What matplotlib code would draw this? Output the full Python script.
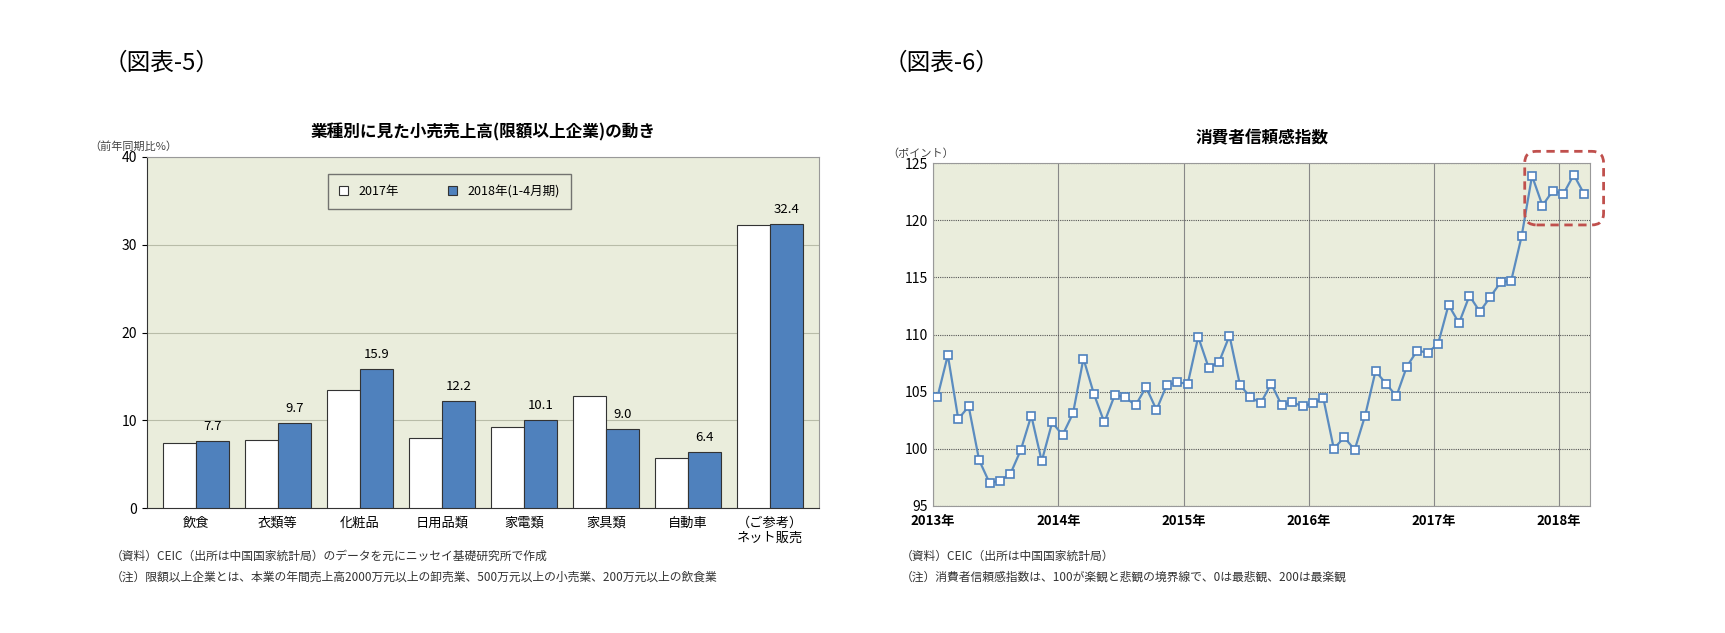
import numpy as np
import matplotlib
matplotlib.use("Agg")
import matplotlib.pyplot as plt
from matplotlib.patches import FancyBboxPatch

plt.rcParams["font.family"] = "Noto Sans CJK JP"

# ---- 図表-5 data ----
categories = ["飲食", "衣類等", "化粧品", "日用品類", "家電類", "家具類", "自動車", "（ご参考）\nネット販売"]
growth_2017 = [7.4, 7.8, 13.5, 8.0, 9.3, 12.8, 5.7, 32.2]
growth_2018 = [7.7, 9.7, 15.9, 12.2, 10.1, 9.0, 6.4, 32.4]

# ---- 図表-6 data (monthly, Jan 2013 - Mar 2018) ----
confidence = [
    104.5, 108.2, 102.6, 103.7, 99.0, 97.0, 97.2, 97.8, 99.9, 102.9, 98.9, 102.3,
    101.2, 103.1, 107.9, 104.8, 102.3, 104.7, 104.5, 103.8, 105.4, 103.4, 105.6, 105.8,
    105.7, 109.8, 107.1, 107.6, 109.9, 105.6, 104.5, 104.0, 105.7, 103.8, 104.1, 103.7,
    104.0, 104.4, 100.0, 101.0, 99.9, 102.9, 106.8, 105.7, 104.6, 107.2, 108.6, 108.4,
    109.2, 112.6, 111.0, 113.4, 112.0, 113.3, 114.6, 114.7, 118.6, 123.9, 121.3, 122.6,
    122.3, 124.0, 122.3,
]
year_labels = ["2013年", "2014年", "2015年", "2016年", "2017年", "2018年"]

bg = "#eaeddc"
blue = "#4f81bd"

fig = plt.figure(figsize=(17.25, 6.33), dpi=100)
fig.text(0.06, 0.90, "（図表-5）", fontsize=17, va="center")
fig.text(0.512, 0.90, "（図表-6）", fontsize=17, va="center")

# ---------- left chart ----------
ax1 = fig.add_axes([0.085, 0.197, 0.39, 0.555])
ax1.set_facecolor(bg)
x = np.arange(len(categories))
w = 0.4
ax1.bar(x - w / 2, growth_2017, w, color="white", edgecolor="#333333", lw=0.8, label="2017年", zorder=3)
ax1.bar(x + w / 2, growth_2018, w, color=blue, edgecolor="#333333", lw=0.8, label="2018年(1-4月期)", zorder=3)
for xi, v in zip(x, growth_2018):
    ax1.text(xi + w / 2, v + 0.9, f"{v:.1f}", ha="center", va="bottom", fontsize=9.5)
ax1.set_xlim(-0.6, len(categories) - 0.4)
ax1.set_ylim(0, 40)
ax1.set_yticks([0, 10, 20, 30, 40])
ax1.yaxis.grid(True, color="#b8bca8", lw=0.8, zorder=0)
ax1.set_xticks(x)
ax1.set_xticklabels(categories, fontsize=9.5)
ax1.tick_params(axis="x", length=0, pad=6)
ax1.tick_params(axis="y", labelsize=10)
for s in ax1.spines.values():
    s.set_color("#999999")
ax1.spines["left"].set_color("#333333")
ax1.spines["bottom"].set_color("#333333")
ax1.set_title("業種別に見た小売売上高(限額以上企業)の動き", fontsize=12, fontweight="bold", pad=14)
ax1.text(-0.085, 1.02, "（前年同期比%）", transform=ax1.transAxes, fontsize=8, color="#444444")
ax1.legend(loc="upper center", bbox_to_anchor=(0.45, 0.97), ncol=2, fontsize=9,
           frameon=True, fancybox=False, edgecolor="#555555", facecolor=bg,
           handlelength=0.7, handleheight=0.7, columnspacing=4, borderpad=0.9)
fig.text(0.064, 0.115, "（資料）CEIC（出所は中国国家統計局）のデータを元にニッセイ基礎研究所で作成", fontsize=8.5, color="#333333")
fig.text(0.064, 0.083, "（注）限額以上企業とは、本業の年間売上高2000万元以上の卸売業、500万元以上の小売業、200万元以上の飲食業", fontsize=8.5, color="#333333")

# ---------- right chart ----------
ax2 = fig.add_axes([0.541, 0.201, 0.381, 0.541])
ax2.set_facecolor(bg)
months = np.arange(len(confidence)) + 0.4
ax2.plot(months, confidence, color="#5b8cc0", lw=1.6, marker="s", markersize=5.5,
         markerfacecolor="white", markeredgecolor="#4f81bd", markeredgewidth=1.2, zorder=3)
ax2.set_xlim(0, len(confidence))
ax2.set_ylim(95, 125)
ax2.set_yticks(range(95, 126, 5))
ax2.yaxis.grid(True, color="#555555", lw=0.8, ls=(0, (1, 1)), zorder=0)
year_pos = np.arange(len(year_labels)) * 12
ax2.set_xticks(year_pos)
ax2.set_xticklabels(year_labels, fontsize=9.5, fontweight="bold")
ax2.xaxis.grid(True, color="#888888", lw=0.8, zorder=0)
ax2.tick_params(axis="x", length=0, pad=6)
ax2.tick_params(axis="y", labelsize=10, length=0)
for s in ax2.spines.values():
    s.set_color("#999999")
ax2.set_title("消費者信頼感指数", fontsize=12, fontweight="bold", pad=14)
ax2.text(-0.07, 1.02, "（ポイント）", transform=ax2.transAxes, fontsize=8, color="#444444")
# highlight box around the recent high readings
box = FancyBboxPatch((0.9, 0.82), 0.12, 0.215, boxstyle="round,pad=0,rounding_size=0.018",
                     transform=ax2.transAxes, fill=False, edgecolor="#c0504d", lw=2,
                     ls=(0, (3, 2)), clip_on=False, zorder=4, mutation_aspect=1.9)
ax2.add_patch(box)
fig.text(0.522, 0.115, "（資料）CEIC（出所は中国国家統計局）", fontsize=8.5, color="#333333")
fig.text(0.522, 0.083, "（注）消費者信頼感指数は、100が楽観と悲観の境界線で、0は最悲観、200は最楽観", fontsize=8.5, color="#333333")

fig.savefig("out.png", dpi=100)
